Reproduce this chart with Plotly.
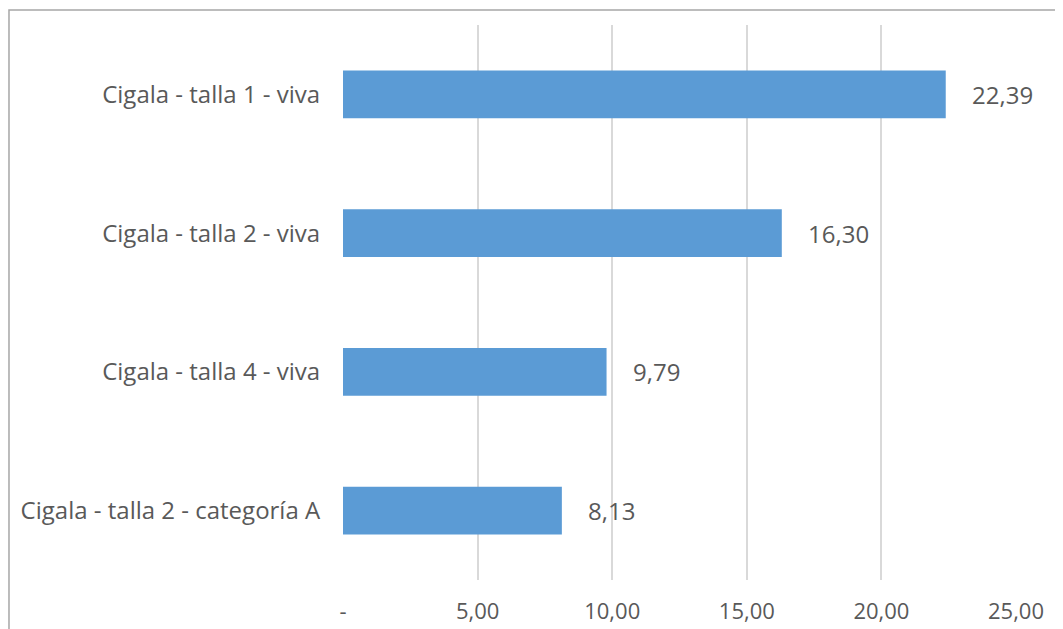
import plotly.graph_objects as go

categories = ["Cigala - talla 1 - viva", "Cigala - talla 2 - viva",
              "Cigala - talla 4 - viva", "Cigala - talla 2 - categoría A"]
values = [22.39, 16.30, 9.79, 8.13]
value_labels = ["22,39", "16,30", "9,79", "8,13"]
tick_vals = [0, 5, 10, 15, 20, 25]
tick_text = ["-", "5,00", "10,00", "15,00", "20,00", "25,00"]

FONT = "Open Sans"
FS = 24
TXT = "#595959"

fig = go.Figure(go.Bar(
    x=values, y=categories, orientation="h",
    marker=dict(color="#5B9BD5", line=dict(width=0)),
    width=0.345,
))

for v, c, lab in zip(values, categories, value_labels):
    fig.add_annotation(x=v, y=c, text=lab, showarrow=False, xanchor="left",
                       xshift=24, font=dict(family=FONT, size=FS, color=TXT))

fig.add_shape(type="rect", xref="paper", yref="paper",
              x0=-0.4963, x1=1.2, y0=-0.3, y1=1.027,
              line=dict(color="#A6A6A6", width=1.5), fillcolor="rgba(0,0,0,0)")

fig.update_layout(
    width=1063, height=629,
    margin=dict(l=335, r=55, t=17, b=57, autoexpand=False),
    paper_bgcolor="white", plot_bgcolor="white",
    showlegend=False,
    font=dict(family=FONT, size=FS, color=TXT),
    xaxis=dict(range=[0, 25], tickvals=tick_vals, ticktext=tick_text,
               showgrid=True, gridcolor="#D9D9D9", gridwidth=1.5,
               zeroline=False, showline=False, tickfont=dict(size=22),
               automargin=False,
               ticks="outside", ticklen=0, ticklabelstandoff=12),
    yaxis=dict(autorange="reversed", showgrid=False, zeroline=False,
               showline=False, ticks="outside", ticklen=0, automargin=False,
               ticklabelstandoff=17),
)

fig.write_html("out.html")
